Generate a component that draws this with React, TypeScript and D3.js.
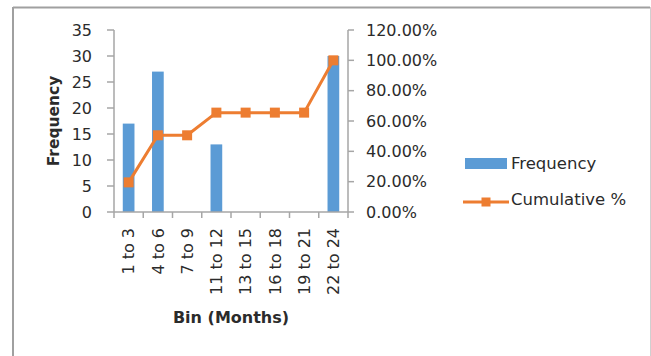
import React from "react";
import * as d3 from "d3";

const categories = ["1 to 3", "4 to 6", "7 to 9", "11 to 12", "13 to 15", "16 to 18", "19 to 21", "22 to 24"];
const frequency = [17, 27, 0, 13, 0, 0, 0, 30];
const cumulative = [0.1954, 0.5057, 0.5057, 0.6552, 0.6552, 0.6552, 0.6552, 1.0];
const leftTicks = [0, 5, 10, 15, 20, 25, 30, 35];
const rightTicks = [0, 0.2, 0.4, 0.6, 0.8, 1.0, 1.2];

const W = 651;
const H = 356;
const plot = { left: 114, right: 348, top: 30, bottom: 212 };
const FONT = "DejaVu Sans, sans-serif";
const TEXT = "#2b2b2b";
const AXIS = "#a6a6a6";
const BLUE = "#5B9BD5";
const ORANGE = "#ED7D31";

export default function App() {
  const x = d3
    .scaleBand<string>()
    .domain(categories)
    .range([plot.left, plot.right])
    .paddingInner(0.6)
    .paddingOuter(0.3);
  const step = x.step();
  const yL = d3.scaleLinear().domain([0, 35]).range([plot.bottom, plot.top]);
  const yR = d3.scaleLinear().domain([0, 1.2]).range([plot.bottom, plot.top]);
  const cx = (c: string) => (x(c) as number) + x.bandwidth() / 2;
  const line = d3
    .line<number>()
    .x((_, i) => cx(categories[i]))
    .y((d) => yR(d));
  const fmtPct = (v: number) => (v * 100).toFixed(2) + "%";
  const ms = 10;

  return (
    <svg
      width={W}
      height={H}
      style={{ position: "absolute", left: 0, top: 0, background: "#fff" }}
      fontFamily={FONT}
    >
      {/* chart frame */}
      <line x1={13} y1={7.5} x2={650} y2={7.5} stroke="#a0a0a0" strokeWidth={2} />
      <line x1={13} y1={7} x2={13} y2={H} stroke="#a0a0a0" strokeWidth={2} />
      <line x1={650.5} y1={7} x2={650.5} y2={H} stroke="#d0d0d0" strokeWidth={1} />

      {/* bars */}
      {frequency.map((v, i) => (
        <rect
          key={"b" + i}
          x={x(categories[i])}
          y={yL(v)}
          width={x.bandwidth()}
          height={plot.bottom - yL(v)}
          fill={BLUE}
        />
      ))}

      {/* left axis */}
      <line x1={plot.left} y1={plot.top} x2={plot.left} y2={plot.bottom} stroke={AXIS} strokeWidth={1.5} />
      {leftTicks.map((t) => (
        <g key={"l" + t}>
          <line x1={plot.left - 7} x2={plot.left} y1={yL(t)} y2={yL(t)} stroke={AXIS} strokeWidth={1.5} />
          <text x={92} y={yL(t)} dy="0.36em" textAnchor="end" fontSize={16} fill={TEXT}>
            {t}
          </text>
        </g>
      ))}

      {/* right axis */}
      <line x1={plot.right} y1={plot.top} x2={plot.right} y2={plot.bottom} stroke={AXIS} strokeWidth={1.5} />
      {rightTicks.map((t) => (
        <g key={"r" + t}>
          <line x1={plot.right} x2={plot.right + 6} y1={yR(t)} y2={yR(t)} stroke={AXIS} strokeWidth={1.5} />
          <text x={366} y={yR(t)} dy="0.36em" textAnchor="start" fontSize={16} fill={TEXT}>
            {fmtPct(t)}
          </text>
        </g>
      ))}

      {/* bottom axis */}
      <line x1={plot.left} y1={plot.bottom} x2={plot.right} y2={plot.bottom} stroke={AXIS} strokeWidth={1.5} />
      {d3.range(categories.length + 1).map((i) => (
        <line
          key={"bt" + i}
          x1={plot.left + i * step}
          x2={plot.left + i * step}
          y1={plot.bottom}
          y2={plot.bottom + 6}
          stroke={AXIS}
          strokeWidth={1.5}
        />
      ))}
      {categories.map((c) => (
        <text
          key={"c" + c}
          transform={`translate(${cx(c)},${228}) rotate(-90)`}
          dy="0.36em"
          textAnchor="end"
          fontSize={16}
          fill={TEXT}
        >
          {c}
        </text>
      ))}

      {/* line series */}
      <path d={line(cumulative) || ""} fill="none" stroke={ORANGE} strokeWidth={3} strokeLinejoin="round" />
      {cumulative.map((v, i) => (
        <rect
          key={"m" + i}
          x={cx(categories[i]) - ms / 2}
          y={yR(v) - ms / 2}
          width={ms}
          height={ms}
          fill={ORANGE}
        />
      ))}

      {/* axis titles */}
      <text
        transform={`translate(53,${(plot.top + plot.bottom) / 2}) rotate(-90)`}
        dy="0.36em"
        textAnchor="middle"
        fontSize={15.5}
        fontWeight="bold"
        fill={TEXT}
      >
        Frequency
      </text>
      <text x={(plot.left + plot.right) / 2} y={323} textAnchor="middle" fontSize={16} fontWeight="bold" fill={TEXT}>
        Bin (Months)
      </text>

      {/* legend */}
      <rect x={465} y={158} width={42} height={11} fill={BLUE} />
      <text x={511} y={169} fontSize={16.5} fill={TEXT}>
        Frequency
      </text>
      <line x1={463} x2={509} y1={202} y2={202} stroke={ORANGE} strokeWidth={3} />
      <rect x={486 - 4.5} y={202 - 4.5} width={9} height={9} fill={ORANGE} />
      <text x={511} y={205} fontSize={16.5} fill={TEXT}>
        Cumulative %
      </text>
    </svg>
  );
}
